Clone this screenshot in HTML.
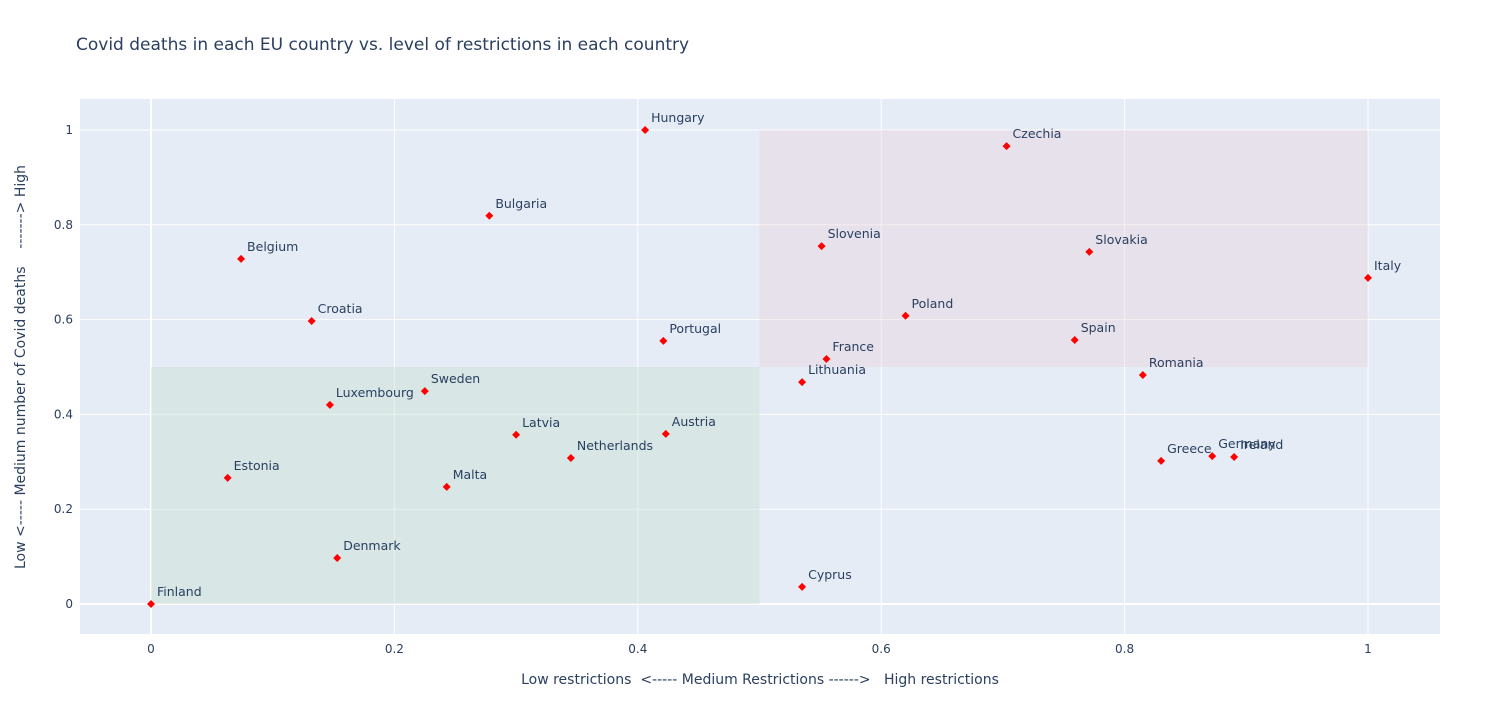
<!DOCTYPE html>
<html><head><meta charset="utf-8">
<style>
body{margin:0;background:#fff;font-family:"DejaVu Sans","Liberation Sans",sans-serif;}
svg text{font-family:"DejaVu Sans","Liberation Sans",sans-serif;fill:#2a3f5f;}
</style></head>
<body>
<svg id="chart" width="1490" height="713" xmlns="http://www.w3.org/2000/svg">
<rect width="1490" height="713" fill="#fff"/>
<text x="76" y="50" font-size="17">Covid deaths in each EU country vs. level of restrictions in each country</text>
<rect x="80" y="99" width="1360" height="535" fill="#e5ecf6"/>
<g id="grid"></g>
<g id="shapes"></g>
<g id="points"></g>
<g id="labels"></g>
<text x="760" y="684" font-size="14" text-anchor="middle" xml:space="preserve">Low restrictions  &lt;----- Medium Restrictions ------&gt;   High restrictions</text>
<text transform="translate(25,367) rotate(-90)" font-size="14" text-anchor="middle" xml:space="preserve">Low &lt;----- Medium number of Covid deaths    -------&gt; High</text>
</svg>
<script>
const countries=["Hungary","Czechia","Bulgaria","Belgium","Slovenia","Slovakia","Italy","Croatia","Poland","Portugal","Spain","France","Lithuania","Romania","Sweden","Luxembourg","Latvia","Austria","Netherlands","Estonia","Malta","Greece","Germany","Ireland","Denmark","Cyprus","Finland"];
const restrictions=[0.406,0.703,0.278,0.074,0.551,0.771,1,0.132,0.620,0.421,0.759,0.555,0.535,0.815,0.225,0.147,0.300,0.423,0.345,0.063,0.243,0.830,0.872,0.890,0.153,0.535,0];
const deaths=[1,0.966,0.819,0.728,0.755,0.743,0.688,0.597,0.608,0.555,0.557,0.517,0.468,0.483,0.449,0.420,0.357,0.359,0.308,0.266,0.247,0.302,0.312,0.310,0.097,0.036,0];
const xTicks=[0,0.2,0.4,0.6,0.8,1];
const yTicks=[0,0.2,0.4,0.6,0.8,1];
const xTickLabels=["0","0.2","0.4","0.6","0.8","1"];
const yTickLabels=["0","0.2","0.4","0.6","0.8","1"];
const NS="http://www.w3.org/2000/svg";
const X=v=>151+v*1217, Y=v=>604-v*474;
function mk(tag,attrs,parent){const e=document.createElementNS(NS,tag);for(const k in attrs)e.setAttribute(k,attrs[k]);document.getElementById(parent).appendChild(e);return e;}
xTicks.forEach((t,i)=>{
  const l=mk('line',{x1:X(t),x2:X(t),y1:99,y2:634,stroke:'#fff','stroke-width':t===0?2:1},'grid');
  
  
  const tx=mk('text',{x:X(t),y:653,'font-size':12,'text-anchor':'middle'},'grid');
  tx.textContent=xTickLabels[i];
  
  
});
yTicks.forEach((t,i)=>{
  const l=mk('line',{x1:80,x2:1440,y1:Y(t),y2:Y(t),stroke:'#fff','stroke-width':t===0?2:1},'grid');
  
  
  const tx=mk('text',{x:73,y:Y(t)+4,'font-size':12,'text-anchor':'end'},'grid');
  tx.textContent=yTickLabels[i];
  
  
});
const g=mk('rect',{x:X(0),y:Y(0.5),width:X(0.5)-X(0),height:Y(0)-Y(0.5),fill:'rgba(200,225,210,0.45)'},'shapes');


const r=mk('rect',{x:X(0.5),y:Y(1),width:X(1)-X(0.5),height:Y(0.5)-Y(1),fill:'rgba(235,210,220,0.4)'},'shapes');


countries.forEach((c,i)=>{
  const x=X(restrictions[i]),y=Y(deaths[i]);
  const p=mk('path',{d:`M${x} ${y-4}L${x+4} ${y}L${x} ${y+4}L${x-4} ${y}Z`,fill:'#ff0000'},'points');
  
  
  const t=mk('text',{x:x+6,y:y-8,'font-size':12.5},'labels');
  t.textContent=c;
  
  
});
</script>
</body></html>
